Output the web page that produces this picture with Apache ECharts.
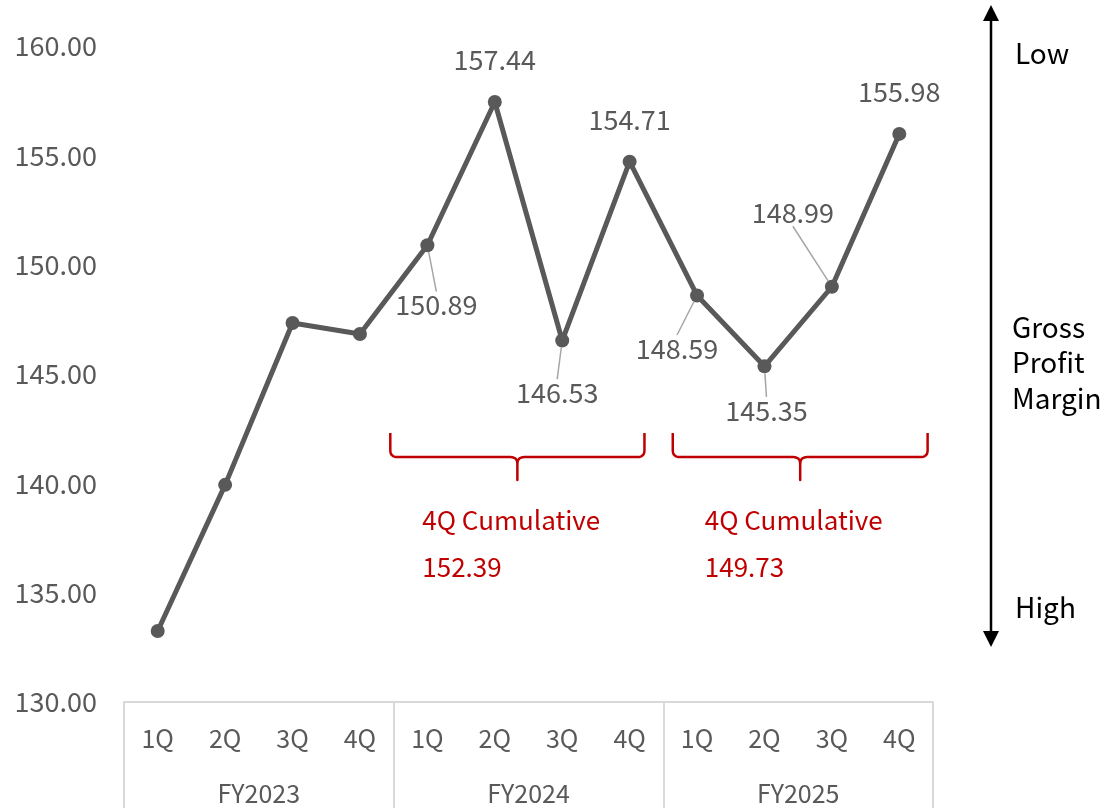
<!DOCTYPE html>
<html>
<head>
<meta charset="utf-8">
<script src="https://cdn.jsdelivr.net/npm/echarts@6/dist/echarts.min.js"></script>
<style>
  html, body { margin: 0; padding: 0; background: #fff; }
  #chart { width: 1109px; height: 808px; }
</style>
</head>
<body>
<div id="chart"></div>
<script>
// Quarterly gross profit margin series
const quarters = ['1Q', '2Q', '3Q', '4Q', '1Q', '2Q', '3Q', '4Q', '1Q', '2Q', '3Q', '4Q'];
const fiscalYears = ['FY2023', 'FY2024', 'FY2025'];
const marginValues = [133.25, 139.93, 147.33, 146.83, 150.89, 157.44, 146.53, 154.71, 148.59, 145.35, 148.99, 155.98];
const labelled = [false, false, false, false, true, true, true, true, true, true, true, true];
const yTicks = [130, 135, 140, 145, 150, 155, 160];

// Four-quarter cumulative figures shown under the braces
const cumulativeTitle = '4Q Cumulative';
const cumulativeValues = ['152.39', '149.73'];
const cumulativeSpans = [[4, 7], [8, 11]];

// Side scale notes
const scaleTop = 'Low';
const scaleMiddle = ['Gross', 'Profit', 'Margin'];
const scaleBottom = 'High';

const GREY = '#595959';
const RED = '#c00000';
const FONT = '"Noto Sans CJK JP", "Noto Sans", sans-serif';

// Label placement relative to each point (pixels) and whether a leader line is drawn
const labelShift = {
  4: [9, 60, true],
  5: [0, -42, false],
  6: [-5, 52, true],
  7: [0, -42, false],
  8: [-20, 53, true],
  9: [2, 44, true],
  10: [-39, -74, true],
  11: [0, -42, false]
};

const chart = echarts.init(document.getElementById('chart'), null, { renderer: 'canvas' });

const seriesData = marginValues.map((v, i) => {
  const shift = labelShift[i];
  return {
    value: v,
    label: { show: labelled[i] },
    labelLine: { show: !!(shift && shift[2]) }
  };
});

chart.setOption({
  animation: false,
  textStyle: { fontFamily: FONT },
  grid: { left: 124, right: 176, top: 46, bottom: 106, containLabel: false },
  xAxis: [
    {
      type: 'category',
      data: quarters,
      boundaryGap: true,
      axisLine: { show: true, lineStyle: { color: '#d9d9d9', width: 2 } },
      axisTick: { show: false },
      axisLabel: { color: GREY, fontSize: 25, margin: 24, fontFamily: FONT }
    },
    {
      type: 'category',
      data: fiscalYears,
      position: 'bottom',
      boundaryGap: true,
      axisLine: { show: false },
      axisTick: { show: true, length: 106, lineStyle: { color: '#d9d9d9', width: 2 } },
      axisLabel: { color: GREY, fontSize: 25, margin: 79, fontFamily: FONT }
    }
  ],
  yAxis: {
    type: 'value',
    min: yTicks[0],
    max: yTicks[yTicks.length - 1],
    interval: 5,
    axisLine: { show: false },
    axisTick: { show: false },
    splitLine: { show: false },
    axisLabel: {
      color: GREY, fontSize: 27, margin: 27, fontFamily: FONT,
      formatter: v => v.toFixed(2)
    }
  },
  series: [{
    type: 'line',
    xAxisIndex: 0,
    data: seriesData,
    symbol: 'circle',
    symbolSize: 14,
    lineStyle: { color: GREY, width: 5 },
    itemStyle: { color: GREY },
    label: {
      position: 'inside',
      color: GREY,
      fontSize: 27,
      fontFamily: FONT,
      padding: [6, 6],
      formatter: p => p.value.toFixed(2)
    },
    labelLine: { lineStyle: { color: '#a6a6a6', width: 1.5 } },
    labelLayout: p => {
      const s = labelShift[p.dataIndex];
      return s ? { dx: s[0], dy: s[1] } : {};
    }
  }]
});

// Annotations placed through the chart's own coordinate system
function px(idx, val) {
  const a = chart.convertToPixel({ xAxisIndex: 0, yAxisIndex: 0 }, [0, val]);
  const b = chart.convertToPixel({ xAxisIndex: 0, yAxisIndex: 0 }, [1, val]);
  return [a[0] + (b[0] - a[0]) * idx, a[1]];
}

// Rounded corner sampled into points (quadratic curve p0 -> ctrl -> p1)
function curve(p0, c, p1, n) {
  const pts = [];
  for (let i = 0; i <= n; i++) {
    const t = i / n, u = 1 - t;
    pts.push([u * u * p0[0] + 2 * u * t * c[0] + t * t * p1[0], u * u * p0[1] + 2 * u * t * c[1] + t * t * p1[1]]);
  }
  return pts;
}

function bracePoints(x1, x2, yTop, yMid, yTip) {
  const r = 7;
  const c = (x1 + x2) / 2;
  return [].concat(
    [[x1, yTop]],
    curve([x1, yMid - r], [x1, yMid], [x1 + r, yMid], 8),
    curve([c - r, yMid], [c, yMid], [c, yMid + r], 8),
    [[c, yTip], [c, yMid + r]],
    curve([c, yMid + r], [c, yMid], [c + r, yMid], 8),
    curve([x2 - r, yMid], [x2, yMid], [x2, yMid - r], 8),
    [[x2, yTop]]
  );
}

const graphics = [];
const braceInset = [[-0.55, 0.22], [-0.36, 0.42]];
cumulativeSpans.forEach((span, k) => {
  const left = px(span[0] + braceInset[k][0], 142.3);
  const right = px(span[1] + braceInset[k][1], 142.3);
  const yMid = px(0, 141.2)[1];
  const yTip = px(0, 140.15)[1];
  graphics.push({
    type: 'polyline',
    shape: { points: bracePoints(left[0], right[0], left[1], yMid, yTip) },
    style: { fill: null, stroke: RED, lineWidth: 2.5, lineJoin: 'round' }
  });
  const tx = left[0] + 32;
  graphics.push({
    type: 'text', x: tx, y: px(0, 138.3)[1],
    style: { text: cumulativeTitle, fill: RED, font: '26px ' + FONT, textVerticalAlign: 'middle' }
  });
  graphics.push({
    type: 'text', x: tx, y: px(0, 136.15)[1],
    style: { text: cumulativeValues[k], fill: RED, font: '26px ' + FONT, textVerticalAlign: 'middle' }
  });
});

// Double-headed scale arrow on the right
const ax = 991, aTop = 5, aBottom = 647;
graphics.push({ type: 'line', shape: { x1: ax, y1: aTop + 12, x2: ax, y2: aBottom - 12 }, style: { stroke: '#000', lineWidth: 2.5 } });
graphics.push({ type: 'polygon', shape: { points: [[ax, aTop], [ax - 8, aTop + 16], [ax + 8, aTop + 16]] }, style: { fill: '#000' } });
graphics.push({ type: 'polygon', shape: { points: [[ax, aBottom], [ax - 8, aBottom - 16], [ax + 8, aBottom - 16]] }, style: { fill: '#000' } });
graphics.push({ type: 'text', x: 1015, y: 53, style: { text: scaleTop, fill: '#000', font: '28px ' + FONT, textVerticalAlign: 'middle' } });
scaleMiddle.forEach((t, i) => {
  graphics.push({ type: 'text', x: 1012, y: 327 + i * 35.5, style: { text: t, fill: '#000', font: '28px ' + FONT, textVerticalAlign: 'middle' } });
});
graphics.push({ type: 'text', x: 1015, y: 607, style: { text: scaleBottom, fill: '#000', font: '28px ' + FONT, textVerticalAlign: 'middle' } });

chart.setOption({ graphic: graphics });
</script>
</body>
</html>
